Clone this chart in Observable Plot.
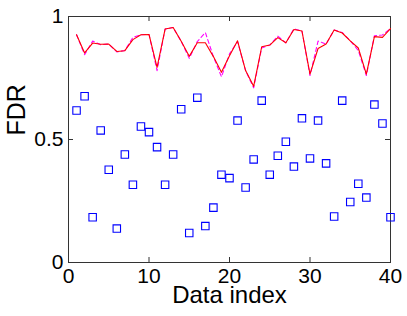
<!DOCTYPE html>
<html>
<head>
<meta charset="utf-8">
<script src="https://cdn.jsdelivr.net/npm/d3@7"></script>
<script src="https://cdn.jsdelivr.net/npm/@observablehq/plot@0.6"></script>
<style>
  html, body { margin: 0; padding: 0; background: #fff; }
  svg { display: block; }
</style>
</head>
<body>
<div id="chart"></div>
<script>
const index = d3.range(1, 41);
const fdrSquares = [0.618,0.676,0.184,0.537,0.377,0.138,0.439,0.316,0.553,0.530,
  0.469,0.316,0.439,0.623,0.120,0.670,0.148,0.223,0.357,0.343,
  0.577,0.305,0.419,0.658,0.357,0.434,0.491,0.390,0.586,0.423,
  0.577,0.403,0.187,0.658,0.246,0.320,0.264,0.642,0.565,0.184];
const fdrRed = [0.926,0.852,0.892,0.887,0.888,0.858,0.861,0.906,0.926,0.927,
  0.793,0.949,0.955,0.899,0.838,0.893,0.893,0.837,0.773,0.840,
  0.901,0.780,0.716,0.877,0.884,0.914,0.893,0.947,0.941,0.766,
  0.870,0.888,0.945,0.933,0.901,0.872,0.766,0.918,0.915,0.951];
const fdrMagenta = [0.926,0.845,0.900,0.885,0.888,0.856,0.862,0.915,0.926,0.927,
  0.780,0.949,0.955,0.899,0.830,0.898,0.935,0.837,0.755,0.848,
  0.898,0.780,0.710,0.872,0.884,0.920,0.893,0.950,0.941,0.760,
  0.900,0.888,0.945,0.935,0.901,0.862,0.760,0.922,0.925,0.951];
const xTicks = [0, 10, 20, 30, 40];
const yTicks = [0, 0.5, 1];
const yTickLabels = ["0", "0.5", "1"];

const W = 407, H = 316;
const mL = 68, mR = 17, mT = 16, mB = 54;
const fw = W - mL - mR, fh = H - mT - mB;

const redRows = index.map((x, i) => ({x, y: fdrRed[i]}));
const magRows = index.map((x, i) => ({x, y: fdrMagenta[i]}));
const sqRows = index.map((x, i) => ({x, y: fdrSquares[i]}));

const chart = Plot.plot({
  width: W, height: H,
  marginLeft: mL, marginRight: mR, marginTop: mT, marginBottom: mB,
  style: {fontFamily: "'Liberation Sans', Arial, sans-serif", background: "white", color: "black"},
  x: {domain: [0, 40]},
  y: {domain: [0, 1]},
  marks: [
    Plot.axisX(xTicks, {tickSize: 0, tickPadding: 6, fontSize: 21, label: null}),
    Plot.axisY(yTicks, {tickSize: 0, tickPadding: 5, fontSize: 21, label: null,
      tickFormat: (d) => yTickLabels[yTicks.indexOf(d)]}),
    Plot.tickX(xTicks, {x: d => d, insetTop: fh - 5, stroke: "#333"}),
    Plot.tickX(xTicks, {x: d => d, insetBottom: fh - 5, stroke: "#333"}),
    Plot.tickY(yTicks, {y: d => d, insetRight: fw - 5, stroke: "#333"}),
    Plot.tickY(yTicks, {y: d => d, insetLeft: fw - 5, stroke: "#333"}),
    Plot.frame({stroke: "#333", strokeWidth: 1}),
    Plot.line(magRows, {x: "x", y: "y", stroke: "#ff00ff", strokeWidth: 1.1, strokeDasharray: "4,3"}),
    Plot.line(redRows, {x: "x", y: "y", stroke: "#ff0000", strokeWidth: 1.1}),
    Plot.dot(sqRows, {x: "x", y: "y", symbol: "square", r: 4.2, stroke: "#0000ff", strokeWidth: 1.1, fill: "none"}),
    Plot.text(["Data index"], {frameAnchor: "bottom", dy: 40, fontSize: 24, fill: "black"}),
    Plot.text(["FDR"], {frameAnchor: "left", dx: -52, dy: -4, rotate: -90, fontSize: 25, fill: "black"})
  ]
});
document.getElementById("chart").appendChild(chart);
</script>
</body>
</html>
